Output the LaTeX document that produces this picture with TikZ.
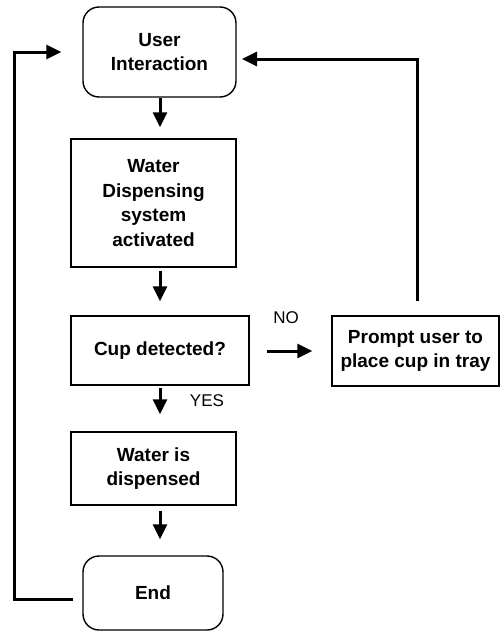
\documentclass[tikz,border=0pt]{standalone}
\usepackage{fontspec}
\setmainfont{Liberation Sans}
\usetikzlibrary{arrows.meta}

\begin{document}
\begin{tikzpicture}[x=1pt, y=-1pt,
  every node/.style={font=\bfseries\fontsize{19}{24.7}\selectfont, align=center, inner sep=0pt},
  procbox/.style={draw, line width=1.4pt},
  termbox/.style={draw, line width=1.4pt, rounded corners=16pt},
  flow/.style={line width=3pt, -{Triangle[length=15pt, width=14pt]}},
  lbl/.style={font=\fontsize{17}{20}\selectfont}
]
\useasboundingbox (0,0) rectangle (501,632);

% process steps
\node[termbox, minimum width=153pt, minimum height=90pt] (ui) at (159.5,52) {User\\Interaction};
\node[procbox, minimum width=165pt, minimum height=128pt] (wd) at (153.5,203) {Water\\Dispensing\\system\\activated};
\node[procbox, minimum width=178pt, minimum height=69pt] (cup) at (160,350.5) {Cup detected?};
\node[procbox, minimum width=167pt, minimum height=70pt] (prompt) at (415.5,351) {Prompt user to\\place cup in tray};
\node[procbox, minimum width=165pt, minimum height=73pt] (wis) at (153.5,468.5) {Water is\\dispensed};
\node[termbox, minimum width=140pt, minimum height=74pt] (end) at (153,593) {End};

% branch labels
\node[lbl] (no) at (286,318) {NO};
\node[lbl] (yes) at (207,401) {YES};

% reference points for the connectors
\coordinate (axis) at (160,0);
\coordinate (upx) at (417,0);
\coordinate (topturn) at (417,59);
\coordinate (uientry) at (236,59);
\coordinate (endexit) at (73,599);
\coordinate (leftdown) at (14,599);
\coordinate (leftup) at (14,52);

% main flow
\draw[flow, shorten >=11pt] (ui.south -| axis) -- (wd.north -| axis);
\draw[flow, shorten <=3pt, shorten >=14pt] (wd.south -| axis) -- (cup.north -| axis);
\draw[flow, shorten <=2pt, shorten >=17pt] (cup.south -| axis) -- (wis.north -| axis);
\draw[flow, shorten <=5pt, shorten >=16pt] (wis.south -| axis) -- (end.north -| axis);

% no branch
\draw[flow, shorten <=17pt, shorten >=19pt] (cup.east |- prompt.west) -- (prompt.west);
\draw[flow, shorten <=14pt, shorten >=6pt] (prompt.north -| upx) -- (topturn) -- (uientry);

% loop back from the end
\draw[flow, shorten >=21pt] (endexit) -- (leftdown) -- (leftup) -- (ui.west);
\end{tikzpicture}
\end{document}
